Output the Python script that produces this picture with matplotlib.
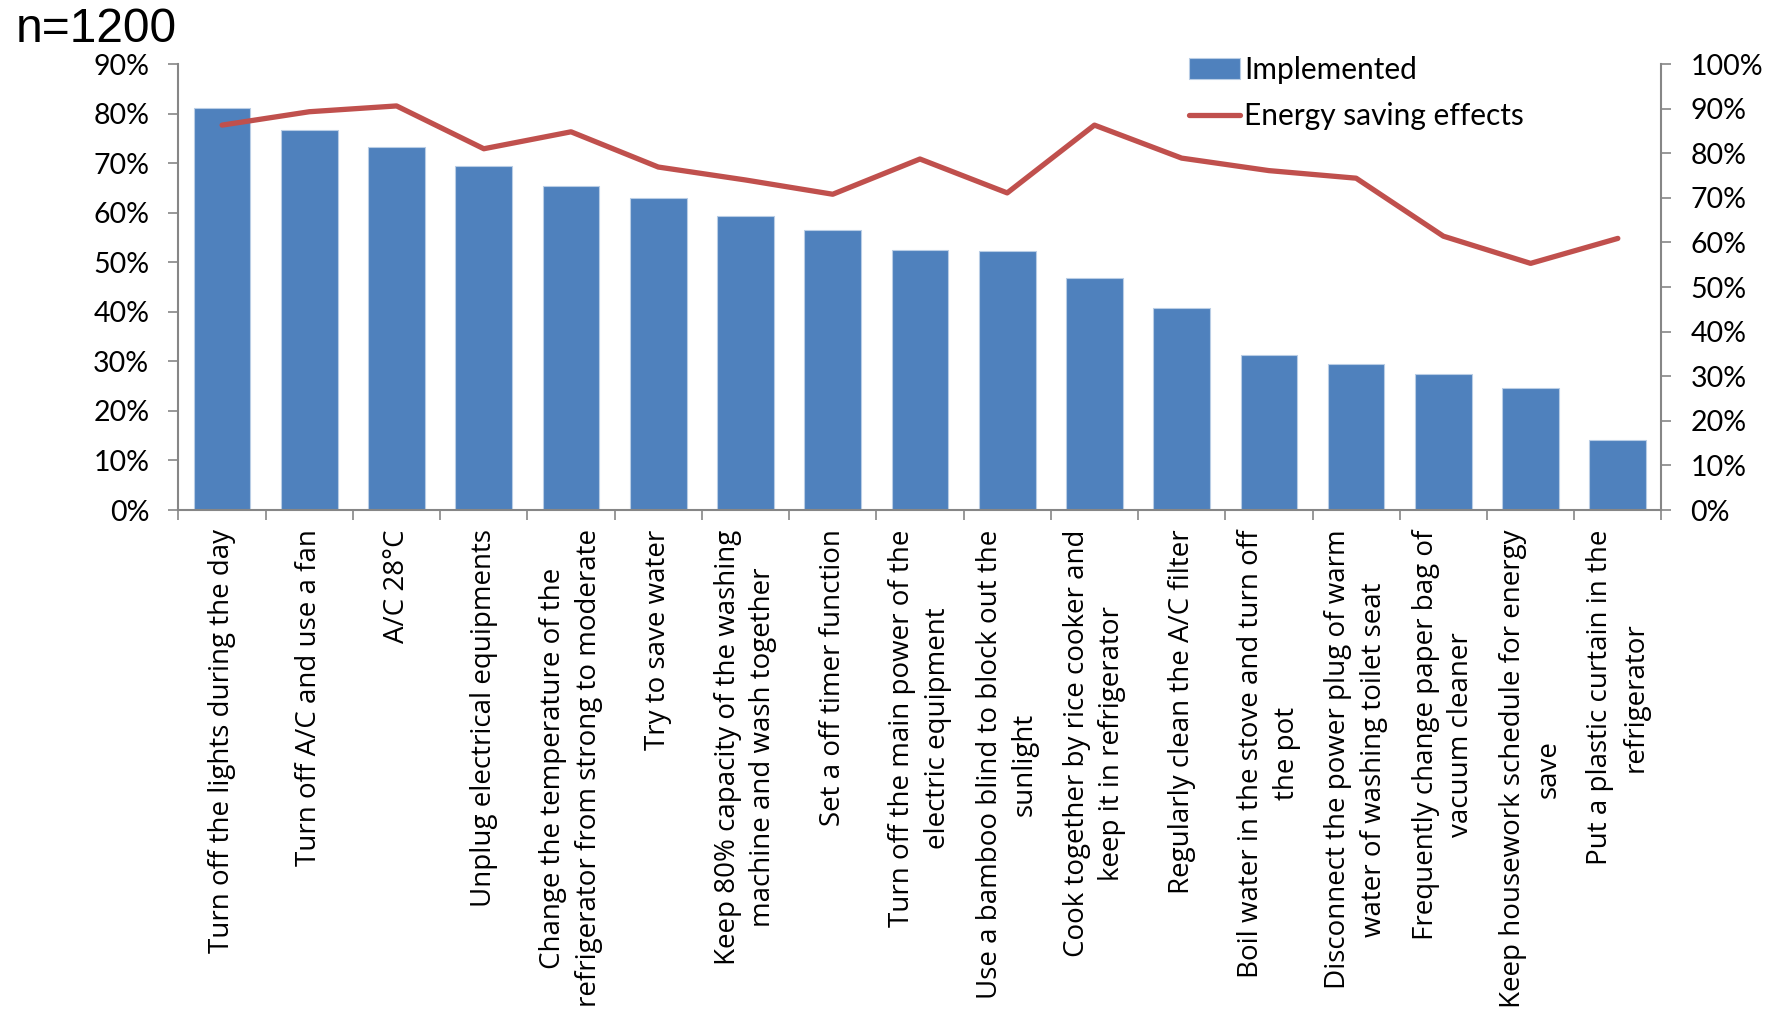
import matplotlib
matplotlib.use("Agg")
import matplotlib.pyplot as plt
from matplotlib.ticker import FuncFormatter, FixedLocator
import numpy as np

categories = [
    "Turn off the lights during the day",
    "Turn off A/C and use a fan",
    "A/C 28\u00b0C",
    "Unplug electrical equipments",
    "Change the temperature of the\nrefrigerator from strong to moderate",
    "Try to save water",
    "Keep 80% capacity of the washing\nmachine and wash together",
    "Set a off timer function",
    "Turn off the main power of the\nelectric equipment",
    "Use a bamboo blind to block out the\nsunlight",
    "Cook together by rice cooker and\nkeep it in refrigerator",
    "Regularly clean the A/C filter",
    "Boil water in the stove and turn off\nthe pot",
    "Disconnect the power plug of warm\nwater of washing toilet seat",
    "Frequently change paper bag of\nvacuum cleaner",
    "Keep housework schedule for energy\nsave",
    "Put a plastic curtain in the\nrefrigerator",
]
implemented = [81.1, 76.6, 73.3, 69.4, 65.3, 63.0, 59.4, 56.6, 52.5, 52.3,
               46.8, 40.7, 31.3, 29.5, 27.4, 24.7, 14.2]
energy_saving = [86.3, 89.3, 90.6, 81.0, 84.8, 76.9, 74.0, 70.8, 78.7, 71.1,
                 86.3, 78.9, 76.1, 74.4, 61.4, 55.3, 60.9]
left_ticks = list(range(0, 91, 10))
right_ticks = list(range(0, 101, 10))
sample_label = "n=1200"

BLUE = "#4F81BD"
RED = "#C0504D"
GREY = "#868686"

fig = plt.figure(figsize=(17.76, 10.16), dpi=100)
ax = fig.add_axes([0.1005, 0.498, 0.8350, 0.439])
ax2 = ax.twinx()

x = np.arange(len(categories))
bars = ax.bar(x, implemented, width=0.65, color=BLUE, edgecolor="#B9CDE5",
              linewidth=0.8, label="Implemented", zorder=2)
line, = ax2.plot(x, energy_saving, color=RED, lw=3.8, solid_capstyle="round",
                 label="Energy saving effects", zorder=3)

ax.set_xlim(-0.5, len(categories) - 0.5)
ax.set_ylim(0, 90)
ax2.set_ylim(0, 100)
ax.set_yticks(left_ticks)
ax2.set_yticks(right_ticks)
pct = FuncFormatter(lambda v, p: f"{v:.0f}%")
ax.yaxis.set_major_formatter(pct)
ax2.yaxis.set_major_formatter(pct)

for lab in ax.get_yticklabels() + ax2.get_yticklabels():
    lab.set_fontfamily("Lato")
    lab.set_fontsize(20.5)

# category ticks sit on the boundaries between bars, labels at the bar centres
ax.xaxis.set_major_locator(FixedLocator(np.arange(-0.5, len(categories), 1.0)))
ax.xaxis.set_major_formatter(FuncFormatter(lambda v, p: ""))
ax.set_xticks(x, minor=True)
ax.set_xticklabels(categories, minor=True, rotation=90, ha="center", va="top",
                   fontfamily="Open Sans", fontsize=20, linespacing=1.35)
ax.tick_params(axis="x", which="minor", length=0, pad=14)
ax.tick_params(axis="x", which="major", length=7, width=1.2, color=GREY,
               direction="out")
ax.tick_params(axis="y", length=7, width=1.2, color=GREY, direction="out", pad=14)
ax2.tick_params(axis="y", length=7, width=1.2, color=GREY, direction="out", pad=14)

for a in (ax, ax2):
    a.spines["top"].set_visible(False)
    for s in ("left", "right", "bottom"):
        a.spines[s].set_color(GREY)
        a.spines[s].set_linewidth(1.5)
ax.spines["right"].set_visible(False)
ax2.spines["left"].set_visible(False)
ax2.spines["bottom"].set_visible(False)

ax.set_zorder(1)
ax2.set_zorder(2)
ax2.patch.set_visible(False)

fig.text(0.009, 0.971, sample_label, fontfamily="Liberation Sans", fontsize=34.5,
         ha="left", va="center")

fig.legend(handles=[bars, line], labels=["Implemented", "Energy saving effects"],
           loc="upper left", bbox_to_anchor=(0.661, 0.9595), frameon=False,
           prop=dict(family="Lato", size=21.5), handlelength=1.7, handletextpad=0.15,
           labelspacing=0.6, borderpad=0)

fig.savefig("out.png", dpi=100)
